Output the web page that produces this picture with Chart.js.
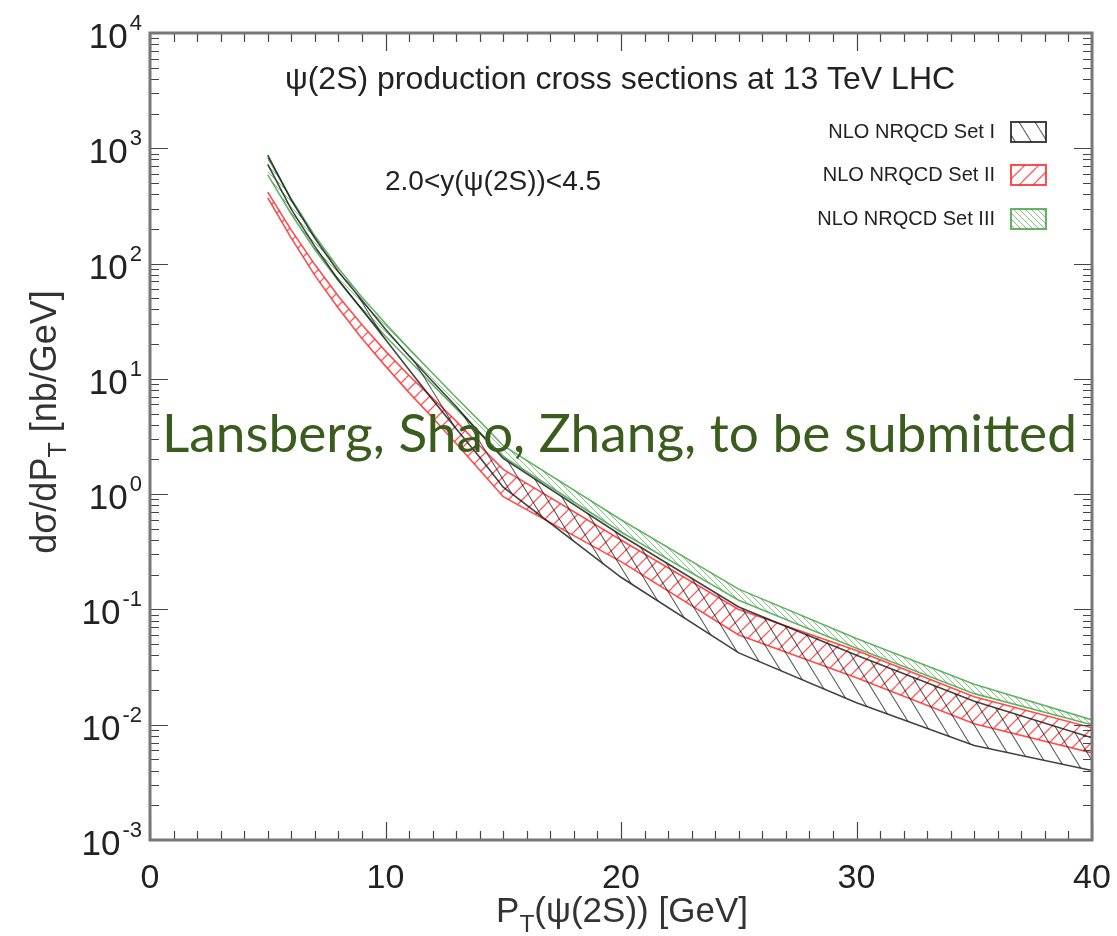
<!DOCTYPE html>
<html>
<head>
<meta charset="utf-8">
<script src="https://cdn.jsdelivr.net/npm/chart.js@4/dist/chart.umd.min.js"></script>
<style>
  body { margin: 0; background: #fff; }
  #wrap { width: 1117px; height: 936px; }
</style>
</head>
<body>
<div id="wrap"><canvas id="c" width="1117" height="936"></canvas></div>
<script>
// pT points (GeV) and the upper/lower edges of each band (nb/GeV)
const pT = [5, 6, 7, 8, 9, 10, 11, 12, 13, 14, 15, 20, 25, 30, 35, 40];
const setIUpper   = [871, 355, 166, 85, 48, 26.9, 15.8, 9.5, 5.75, 3.39, 2.04, 0.44, 0.105, 0.040, 0.016, 0.0077];
const setILower   = [724, 295, 141, 72, 40, 21.9, 12.0, 6.6, 3.7, 2.09, 1.15, 0.19, 0.042, 0.0155, 0.0066, 0.0040];
const setIIUpper  = [417, 195, 98, 52, 29.5, 17.4, 10.7, 6.8, 4.3, 2.63, 1.64, 0.40, 0.10, 0.044, 0.0175, 0.0094];
const setIILower  = [372, 166, 79, 41, 22.4, 12.9, 7.6, 4.6, 2.75, 1.62, 0.95, 0.26, 0.060, 0.0255, 0.0102, 0.0057];
const setIIIUpper = [832, 363, 174, 91, 51, 30.2, 18.2, 11.2, 6.9, 4.3, 2.63, 0.60, 0.15, 0.056, 0.0224, 0.011];
const setIIILower = [589, 269, 132, 71, 40, 23.4, 14.5, 8.9, 5.5, 3.43, 2.11, 0.47, 0.12, 0.046, 0.0186, 0.010];

const seriesNames = ["NLO NRQCD Set I", "NLO NRQCD Set II", "NLO NRQCD Set III"];
const yExponents = [-3, -2, -1, 0, 1, 2, 3, 4];
const xMinorStep = 1;

const FONT = "'Liberation Sans', Arial, Helvetica, sans-serif";

// diagonal hatching as a repeating pattern
function hatch(color, dir, w, h, lw) {
  const c = document.createElement("canvas");
  c.width = w; c.height = h;
  const g = c.getContext("2d");
  g.strokeStyle = color;
  g.lineWidth = lw;
  g.beginPath();
  for (const k of [-w, 0, w]) {
    if (dir === "\\") { g.moveTo(k, 0); g.lineTo(k + w, h); }
    else { g.moveTo(k, h); g.lineTo(k + w, 0); }
  }
  g.stroke();
  return g.createPattern(c, "repeat");
}

const blackLine = "rgba(20,20,20,0.8)";
const redLine = "rgba(255,45,45,0.85)";
const greenLine = "rgba(50,155,50,0.75)";
const blackHatch = hatch("rgba(20,20,20,0.7)", "\\", 16, 26, 1.1);
const redHatch = hatch("rgba(255,45,45,0.8)", "/", 14, 14, 1.3);
const greenHatch = hatch("rgba(50,155,50,0.6)", "\\", 6, 6, 1);

function pts(ys) { return pT.map((x, i) => ({ x: x, y: ys[i] })); }

function band(upper, lower, color, fillPat) {
  const base = { borderColor: color, borderWidth: 1.6, pointRadius: 0, tension: 0 };
  return [
    Object.assign({ data: pts(upper), fill: false }, base),
    Object.assign({ data: pts(lower), fill: "-1", backgroundColor: fillPat }, base)
  ];
}

// draws text pieces with optional subscripts
function richText(ctx, parts, size, x, y, align) {
  let w = 0;
  for (const p of parts) {
    ctx.font = (p.sub ? size * 0.7 : size) + "px " + FONT;
    p.w = ctx.measureText(p.t).width;
    w += p.w;
  }
  let cx = align === "center" ? x - w / 2 : x;
  ctx.textAlign = "left";
  ctx.textBaseline = "alphabetic";
  for (const p of parts) {
    ctx.font = (p.sub ? size * 0.7 : size) + "px " + FONT;
    ctx.fillText(p.t, cx, p.sub ? y + size * 0.28 : y);
    cx += p.w;
  }
}

const decorations = {
  id: "decorations",
  afterDraw(chart) {
    const ctx = chart.ctx;
    const a = chart.chartArea;
    const xs = chart.scales.x, ys = chart.scales.y;
    ctx.save();

    // inside ticks on all four sides
    ctx.strokeStyle = "#444";
    ctx.lineWidth = 1.2;
    ctx.beginPath();
    for (const e of yExponents) {
      for (let m = 1; m <= 9; m++) {
        const v = m * Math.pow(10, e);
        if (v > 1e4 * 1.0001) continue;
        const py = Math.round(ys.getPixelForValue(v)) + 0.5;
        const len = m === 1 ? 18 : 9;
        ctx.moveTo(a.left, py); ctx.lineTo(a.left + len, py);
        ctx.moveTo(a.right, py); ctx.lineTo(a.right - len, py);
      }
    }
    for (let v = 0; v <= 40; v += xMinorStep) {
      const px = Math.round(xs.getPixelForValue(v)) + 0.5;
      const len = v % 10 === 0 ? 18 : 9;
      ctx.moveTo(px, a.bottom); ctx.lineTo(px, a.bottom - len);
      ctx.moveTo(px, a.top); ctx.lineTo(px, a.top + len);
    }
    ctx.stroke();

    // frame
    ctx.strokeStyle = "#777";
    ctx.lineWidth = 3;
    ctx.strokeRect(a.left, a.top, a.right - a.left, a.bottom - a.top);

    // y tick labels 10^n
    ctx.fillStyle = "#222";
    for (const e of yExponents) {
      const py = ys.getPixelForValue(Math.pow(10, e));
      const exp = String(e);
      ctx.font = "22px " + FONT;
      const ew = ctx.measureText(exp).width;
      ctx.textBaseline = "alphabetic";
      ctx.textAlign = "left";
      ctx.fillText(exp, 142 - ew, py - 3);
      ctx.font = "35px " + FONT;
      ctx.textAlign = "right";
      ctx.fillText("10", 140 - ew, py + 15);
    }

    // axis titles
    ctx.fillStyle = "#333";
    richText(ctx, [{ t: "P" }, { t: "T", sub: true }, { t: "(\u03c8(2S)) [GeV]" }], 35, 622, 922, "center");
    ctx.save();
    ctx.translate(56, 422);
    ctx.rotate(-Math.PI / 2);
    richText(ctx, [{ t: "d\u03c3/dP" }, { t: "T", sub: true }, { t: " [nb/GeV]" }], 36, 0, 0, "center");
    ctx.restore();

    // texts inside the frame
    ctx.fillStyle = "#222";
    ctx.font = "32px " + FONT;
    ctx.textAlign = "center";
    ctx.textBaseline = "middle";
    ctx.fillText("\u03c8(2S) production cross sections at 13 TeV LHC", 620, 80);
    ctx.font = "28px " + FONT;
    ctx.textAlign = "left";
    ctx.fillText("2.0<y(\u03c8(2S))<4.5", 385, 182);

    // legend: label then hatched box
    const legend = [
      { y: 132, c: blackLine, p: blackHatch },
      { y: 175, c: redLine, p: redHatch },
      { y: 219, c: greenLine, p: greenHatch }
    ];
    ctx.font = "20px " + FONT;
    ctx.textAlign = "right";
    legend.forEach((l, i) => {
      ctx.fillStyle = "#222";
      ctx.fillText(seriesNames[i], 995, l.y);
      ctx.fillStyle = l.p;
      ctx.fillRect(1011, l.y - 10, 35, 20);
      ctx.strokeStyle = l.c;
      ctx.lineWidth = 2;
      ctx.strokeRect(1011, l.y - 10, 35, 20);
    });

    // overlay note
    ctx.fillStyle = "rgb(58,92,28)";
    ctx.textAlign = "left";
    ctx.textBaseline = "alphabetic";
    const note = "Lansberg, Shao, Zhang, to be submitted";
    ctx.font = "48px Lato, 'Open Sans', sans-serif";
    const nw = ctx.measureText(note).width;
    ctx.font = (48 * 915 / nw).toFixed(1) + "px Lato, 'Open Sans', sans-serif";
    ctx.fillText(note, 162, 452);

    ctx.restore();
  }
};

new Chart(document.getElementById("c"), {
  type: "line",
  data: {
    datasets: [
      ...band(setIUpper, setILower, blackLine, blackHatch),
      ...band(setIIUpper, setIILower, redLine, redHatch),
      ...band(setIIIUpper, setIIILower, greenLine, greenHatch)
    ]
  },
  options: {
    responsive: false,
    animation: false,
    devicePixelRatio: 1,
    layout: { padding: { left: 0, top: 33, right: 25, bottom: 0 } },
    plugins: { legend: { display: false }, tooltip: { enabled: false } },
    scales: {
      x: {
        type: "linear",
        min: 0,
        max: 40,
        grid: { display: false },
        border: { display: false },
        ticks: { stepSize: 10, padding: 10, color: "#222", font: { family: FONT, size: 34 } },
        afterFit(s) { s.height = 96; s.paddingLeft = 0; s.paddingRight = 0; }
      },
      y: {
        type: "logarithmic",
        min: 1e-3,
        max: 1e4,
        grid: { display: false },
        border: { display: false },
        ticks: { display: false },
        afterFit(s) { s.width = 150; s.paddingTop = 0; s.paddingBottom = 0; }
      }
    }
  },
  plugins: [decorations]
});
</script>
</body>
</html>
